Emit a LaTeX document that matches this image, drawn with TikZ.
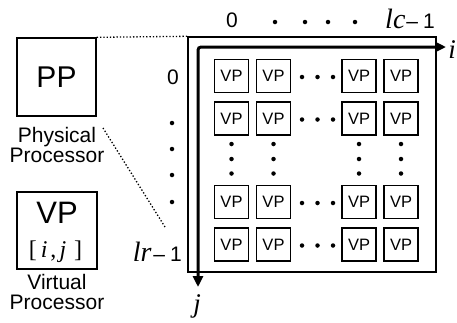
\documentclass[tikz,border=0pt]{standalone}
\usepackage{fontspec}
\setmainfont{Liberation Sans}
\newfontfamily\tms{Liberation Serif}
\usetikzlibrary{arrows.meta}
\begin{document}
\begin{tikzpicture}[x=1pt,y=-1pt,
  vpbox/.style={draw,line width=1.4pt,minimum width=34pt,minimum height=33pt,inner sep=0pt,font=\fontsize{16.5}{16.5}\selectfont},
  legbox/.style={draw,line width=1.4pt,inner sep=0pt},
  lbl/.style={inner sep=0pt,font=\fontsize{21}{21}\selectfont},
  captext/.style={inner sep=0pt,align=center,font=\fontsize{21}{19.5}\selectfont},
  mathlbl/.style={inner sep=0pt,font=\tms\itshape\fontsize{27}{27}\selectfont},
  dotm/.style={circle,fill,inner sep=0pt,minimum size=4.5pt},
  axisline/.style={line width=3pt,rounded corners=3pt,{Triangle[length=11pt,width=10pt]}-{Triangle[length=11pt,width=10pt]}},
  dotline/.style={line width=1.3pt,dotted}
]
\useasboundingbox (0,0) rectangle (457,322);

% legend
\node[legbox,minimum width=79pt,minimum height=78pt,font=\fontsize{30}{30}\selectfont] (pp) at (56.5,77) {PP};
\node[captext] (phys) at (57,145) {Physical\\Processor};
\node[legbox,minimum width=80pt,minimum height=77pt] (vpl) at (57,230.5) {};
\node[inner sep=0pt,font=\fontsize{31}{31}\selectfont] (vpt) at (57,213) {VP};
\node[inner sep=0pt,font=\tms\fontsize{24}{24}\selectfont] (ij) at (55.5,252) {[\hspace{4pt}\textit{i}\hspace{3pt},\hspace{3pt}\textit{j}\hspace{8pt}]};
\node[captext] (virt) at (57,292) {Virtual\\Processor};

% frame
\node[draw,line width=1.4pt,inner sep=0pt,minimum width=248pt,minimum height=235pt] (frame) at (312,154.5) {};

% axes
\coordinate (itip) at (446,47);
\coordinate (corner) at (198,47);
\coordinate (jtip) at (198,287);
\draw[axisline] (itip) -- (corner) -- (jtip);
\node[mathlbl] (ilab) at (452,50) {i};
\node[mathlbl] (jlab) at (197,306) {j};

% top labels
\node[lbl] (c0) at (232,20) {0};
\foreach \x [count=\k] in {275,305,328,355} \node[dotm] (td\k) at (\x,22) {};
\node[lbl,anchor=base east] (clast) at (435,28) {{\tms\itshape\fontsize{28}{28}\selectfont lc}\hspace{1pt}–\hspace{5pt}1};

% left labels
\node[lbl] (r0) at (173,77) {0};
\foreach \y [count=\k] in {123,149,175,202} \node[dotm] (ld\k) at (172,\y) {};
\node[lbl,anchor=base east] (rlast) at (182,261) {{\tms\itshape\fontsize{28}{28}\selectfont lr}\hspace{2pt}–\hspace{5pt}1};

% VP grid
\foreach \x [count=\c] in {231.5,273.5,359,401}
  \foreach \y [count=\r] in {76,118.5,202,244.5}
    \node[vpbox] (vp\r\c) at (\x,\y) {VP};
\foreach \y [count=\r] in {77,119.5,203,245.5}
  \foreach \x [count=\k] in {302,317.5,333}
    \node[dotm] (hd\r\k) at (\x,\y) {};
\foreach \x [count=\c] in {231.5,273.5,359,401}
  \foreach \y [count=\k] in {144,159,173.5}
    \node[dotm] (vd\c\k) at (\x,\y) {};

% dotted connectors
\draw[dotline] (pp.north east) -- (frame.north west);
\coordinate (d1) at (103,128);
\coordinate (d2) at (165,227);
\draw[dotline] (d1) -- (d2);
\end{tikzpicture}
\end{document}
